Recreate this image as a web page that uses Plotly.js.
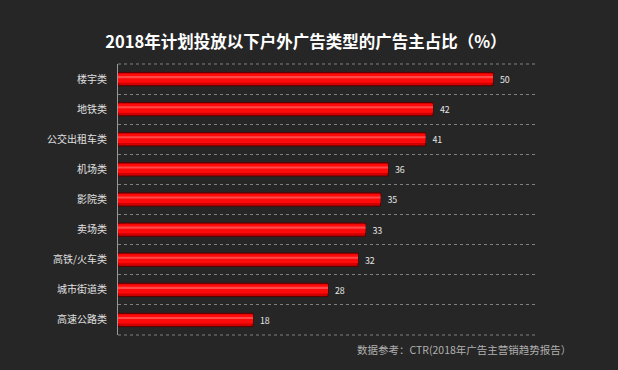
<!DOCTYPE html>
<html><head><meta charset="utf-8">
<script src="https://cdn.plot.ly/plotly-3.0.1.min.js"></script>
<style>html,body{margin:0;padding:0;background:#262626;}</style>
</head><body>
<div id="chart" style="width:618px;height:370px;"></div>
<script>
const categories = ["楼宇类","地铁类","公交出租车类","机场类","影院类","卖场类","高铁/火车类","城市街道类","高速公路类"];
const values = [50,42,41,36,35,33,32,28,18];
const titleText = "2018年计划投放以下户外广告类型的广告主占比（%）";
const sourceText = "数据参考：CTR(2018年广告主营销趋势报告）";

const font = "'Noto Sans CJK SC', 'Microsoft YaHei', sans-serif";
const traces = [
  {type:'bar', orientation:'h', y:categories, x:values, width:0.44,
   marker:{color:'#d00000', line:{color:'#5a0000', width:1}},
   texttemplate:'  %{x}', textposition:'outside', cliponaxis:false,
   textfont:{color:'#e6e6e6', size:10, family:font}, hoverinfo:'none'},
  {type:'bar', orientation:'h', y:categories, x:values, width:0.3, offset:-0.18,
   marker:{color:'#ff0a0a', line:{width:0}}, hoverinfo:'none'},
  {type:'bar', orientation:'h', y:categories, x:values, width:0.07, offset:-0.1,
   marker:{color:'#ff4a4a', line:{width:0}}, hoverinfo:'none'}
];
const gridLine = {color:'#808080', width:1, dash:'3px,3px'};
const layout = {
  width:618, height:370,
  paper_bgcolor:'#262626', plot_bgcolor:'#262626',
  margin:{l:118, r:80, t:64, b:35},
  barmode:'overlay', showlegend:false,
  title:{text:'<b>'+titleText+'</b>', font:{family:font, size:16.5, color:'#ffffff'},
    x:0.495, xref:'container', xanchor:'center', y:1-42/370, yref:'container', yanchor:'middle'},
  xaxis:{range:[0,56], showgrid:false, zeroline:false, showticklabels:false, showline:false, fixedrange:true},
  yaxis:{type:'category', autorange:'reversed', tickson:'boundaries', ticks:'',
    showgrid:true, gridcolor:'#808080', griddash:'3px,3px', gridwidth:1,
    showline:true, linecolor:'#999999', linewidth:1, ticklabelstandoff:8,
    tickfont:{family:font, size:10, color:'#e0e0e0'}, fixedrange:true},
  shapes:[
    {type:'line', xref:'paper', yref:'paper', x0:0, x1:1, y0:1, y1:1, line:gridLine, layer:'below'},
    {type:'line', xref:'paper', yref:'paper', x0:0, x1:1, y0:0, y1:0, line:gridLine, layer:'below'}
  ],
  annotations:[{text:sourceText, xref:'paper', yref:'paper', x:1.083, y:-0.052,
    xanchor:'right', yanchor:'middle', showarrow:false,
    font:{family:font, size:10.5, color:'#b0b0b0'}}]
};
Plotly.newPlot('chart', traces, layout, {displayModeBar:false, staticPlot:true});
</script>
</body></html>
